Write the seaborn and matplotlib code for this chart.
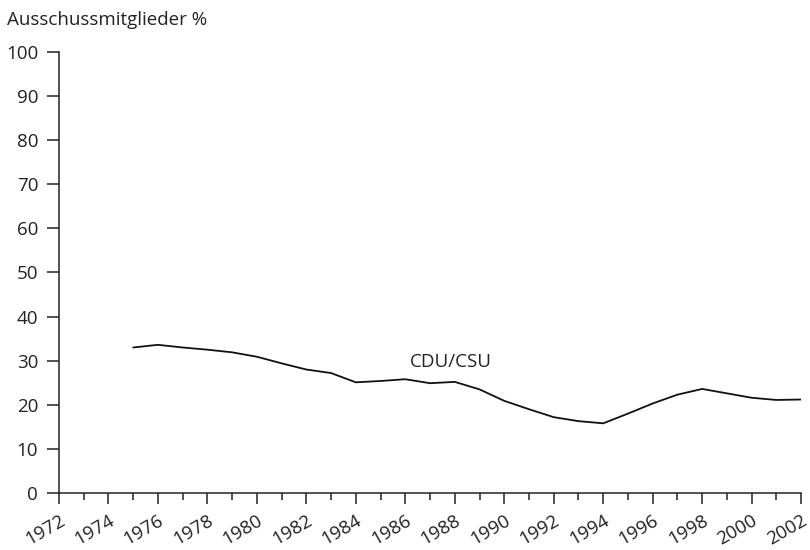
import matplotlib
matplotlib.use("Agg")
import matplotlib.pyplot as plt
from matplotlib.ticker import MultipleLocator
import seaborn as sns
import pandas as pd

years = list(range(1975, 2003))
cdu_csu = [33.0, 33.6, 33.0, 32.5, 31.9, 30.9, 29.4, 28.0, 27.2, 25.1, 25.4, 25.8,
           24.9, 25.2, 23.5, 20.9, 19.0, 17.2, 16.3, 15.8, 18.0, 20.3, 22.3, 23.6,
           22.6, 21.6, 21.1, 21.2]
xtick_labels = [str(y) for y in range(1972, 2003, 2)]
ytick_vals = list(range(0, 101, 10))

sns.set_style("ticks")
plt.rcParams['font.family'] = ['Open Sans', 'DejaVu Sans']

df = pd.DataFrame({"Jahr": years, "Anteil": cdu_csu})

fig = plt.figure(figsize=(8.1, 5.5), dpi=100)
ax = fig.add_axes([0.0728, 0.1036, 0.9162, 0.8019])
sns.lineplot(data=df, x="Jahr", y="Anteil", ax=ax, color="#111111", linewidth=1.3)

fs = 13.5
ax.set_xlim(1972, 2002)
ax.set_ylim(0, 100)
ax.set_xticks(range(1972, 2003, 2))
ax.set_xticklabels(xtick_labels)
ax.xaxis.set_minor_locator(MultipleLocator(1))
ax.set_yticks(ytick_vals)
ax.set_yticklabels([str(v) for v in ytick_vals])
ax.set_xlabel("")
ax.set_ylabel("")
sns.despine(ax=ax)
for s in ["left", "bottom"]:
    ax.spines[s].set_linewidth(1.1)
    ax.spines[s].set_color("#222222")

ax.tick_params(axis="y", length=9, width=1.1, color="#222222", labelsize=fs, pad=6, labelcolor="#222222")
ax.tick_params(axis="x", which="major", length=8, width=1.1, color="#222222", labelsize=fs, labelcolor="#222222", pad=5)
ax.tick_params(axis="x", which="minor", length=5, width=1.1, color="#222222")
for lbl in ax.get_xticklabels():
    lbl.set_rotation(30)
    lbl.set_ha("right")
    lbl.set_rotation_mode("anchor")

ax.text(1986.2, 29.7, "CDU/CSU", fontsize=fs, color="#222222", va="center", ha="left")
fig.text(7 / 810, 1 - 20 / 550, "Ausschussmitglieder %", fontsize=fs, color="#222222",
         va="center", ha="left")

fig.savefig("out.png", dpi=100)
